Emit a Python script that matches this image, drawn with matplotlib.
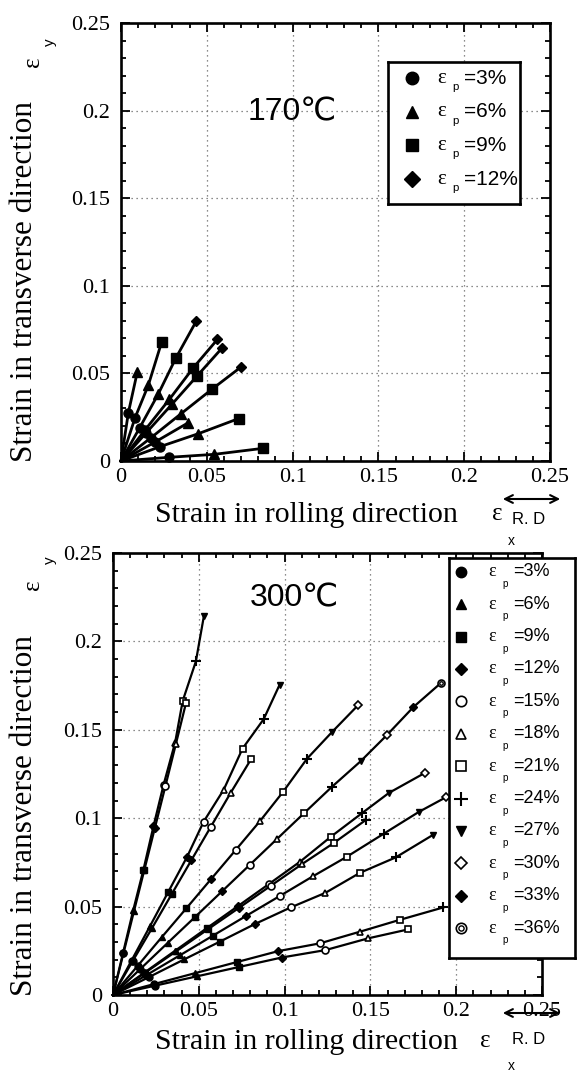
import matplotlib
matplotlib.use('Agg')
import matplotlib.pyplot as plt

W, H = 577, 1077

# plastic strain levels shown in the legends, one marker style per level
eps_levels = ['3', '6', '9', '12', '15', '18', '21', '24', '27', '30', '33', '36']
# (marker, filled) ; 'dc' = double circle
marker_styles = [('o', True), ('^', True), ('s', True), ('D', True),
                 ('o', False), ('^', False), ('s', False), ('+', None),
                 ('v', True), ('D', False), ('D', True), ('dc', False)]

# 170 C : strain paths, one point per 3% step of plastic strain
top_x = [
    [0.0043, 0.0095],
    [0.0082, 0.0159, 0.0237],
    [0.0109, 0.0218, 0.0321, 0.0438],
    [0.0140, 0.0282, 0.0422, 0.0562],
    [0.0148, 0.0296, 0.0443, 0.0591],
    [0.0175, 0.0350, 0.0529, 0.0700],
    [0.0198, 0.0393],
    [0.0228, 0.0451, 0.0685],
    [0.0280, 0.0543, 0.0825],
]
top_y = [
    [0.0276, 0.0508],
    [0.0247, 0.0432, 0.0679],
    [0.0190, 0.0384, 0.0590, 0.0797],
    [0.0177, 0.0352, 0.0533, 0.0694],
    [0.0162, 0.0323, 0.0485, 0.0647],
    [0.0133, 0.0270, 0.0409, 0.0537],
    [0.0108, 0.0219],
    [0.0082, 0.0156, 0.0242],
    [0.0021, 0.0038, 0.0072],
]

# 300 C
bot_x = [
    [0.0059, 0.0118, 0.0177, 0.0236, 0.0295, 0.0362, 0.0406, 0.0483, 0.0530],
    [0.0061, 0.0122, 0.0183, 0.0244, 0.0305, 0.0366, 0.0426],
    [0.0108, 0.0216, 0.0323, 0.0431, 0.0528, 0.0645, 0.0755, 0.0878, 0.0971],
    [0.0114, 0.0229, 0.0343, 0.0457, 0.0571, 0.0686, 0.0804],
    [0.0143, 0.0285, 0.0428, 0.0571, 0.0714, 0.0856, 0.0991, 0.1131, 0.1277, 0.1427],
    [0.0159, 0.0318, 0.0478, 0.0637, 0.0796, 0.0955, 0.1114, 0.1274, 0.1443, 0.1595, 0.1751, 0.1910],
    [0.0182, 0.0363, 0.0545, 0.0727, 0.0909, 0.1090, 0.1268, 0.1453, 0.1608, 0.1817],
    [0.0184, 0.0368, 0.0552, 0.0736, 0.0920, 0.1104, 0.1287, 0.1472],
    [0.0194, 0.0389, 0.0583, 0.0777, 0.0972, 0.1166, 0.1361, 0.1579, 0.1783, 0.1943],
    [0.0207, 0.0414, 0.0621, 0.0828, 0.1035, 0.1238, 0.1439, 0.1647, 0.1862],
    [0.0240, 0.0480, 0.0721, 0.0962, 0.1205, 0.1439, 0.1671, 0.1924],
    [0.0246, 0.0491, 0.0737, 0.0983, 0.1238, 0.1485, 0.1720],
]
bot_y = [
    [0.0240, 0.0480, 0.0707, 0.0955, 0.1190, 0.1428, 0.1663, 0.1887, 0.2145],
    [0.0236, 0.0473, 0.0709, 0.0945, 0.1180, 0.1418, 0.1654],
    [0.0195, 0.0390, 0.0585, 0.0780, 0.0980, 0.1161, 0.1394, 0.1560, 0.1755],
    [0.0191, 0.0381, 0.0572, 0.0763, 0.0953, 0.1144, 0.1333],
    [0.0164, 0.0328, 0.0491, 0.0655, 0.0819, 0.0983, 0.1149, 0.1337, 0.1488, 0.1638],
    [0.0147, 0.0294, 0.0441, 0.0588, 0.0735, 0.0882, 0.1029, 0.1176, 0.1322, 0.1469, 0.1629, 0.1764],
    [0.0126, 0.0251, 0.0377, 0.0502, 0.0628, 0.0754, 0.0894, 0.1030, 0.1143, 0.1256],
    [0.0124, 0.0247, 0.0371, 0.0494, 0.0618, 0.0742, 0.0860, 0.0989],
    [0.0112, 0.0224, 0.0336, 0.0448, 0.0560, 0.0672, 0.0781, 0.0913, 0.1036, 0.1120],
    [0.0100, 0.0201, 0.0301, 0.0402, 0.0495, 0.0578, 0.0691, 0.0778, 0.0904],
    [0.0062, 0.0124, 0.0186, 0.0248, 0.0292, 0.0358, 0.0425, 0.0495],
    [0.0053, 0.0106, 0.0159, 0.0212, 0.0254, 0.0320, 0.0371],
]

ticks = [0, 0.05, 0.1, 0.15, 0.2, 0.25]
tick_labels = ['0', '0.05', '0.1', '0.15', '0.2', '0.25']

SERIF = ['Liberation Serif', 'DejaVu Serif']
SANS = ['Liberation Sans', 'DejaVu Sans']


def box(l, t, r, b):
    # pixel box -> figure fraction
    return [l / W, 1 - b / H, (r - l) / W, (b - t) / H]


def fx(px):
    return px / W


def fy(py):
    return 1 - py / H


def draw_marker(ax, x, y, k, ms, **kw):
    m, filled = marker_styles[k]
    if m == 'dc':
        ax.plot(x, y, 'o', ms=ms, mfc='white', mec='black', mew=1.2, **kw)
        ax.plot(x, y, 'o', ms=ms * 0.5, mfc='white', mec='black', mew=1.0, **kw)
        return
    if m == 'D':
        ms = ms * 0.85
    if m == '+':
        ax.plot(x, y, '+', ms=ms * 1.3, mec='black', mew=1.5, **kw)
    elif filled:
        ax.plot(x, y, m, ms=ms, mfc='black', mec='black', **kw)
    else:
        ax.plot(x, y, m, ms=ms, mfc='white', mec='black', mew=1.2, **kw)


def setup(ax):
    ax.set_xlim(0, 0.25)
    ax.set_ylim(0, 0.25)
    ax.set_xticks(ticks)
    ax.set_yticks(ticks)
    ax.set_xticklabels(tick_labels, family=SERIF, fontsize=16)
    ax.set_yticklabels(tick_labels, family=SERIF, fontsize=16)
    ax.set_xticks([i * 0.01 for i in range(26)], minor=True)
    ax.set_yticks([i * 0.01 for i in range(26)], minor=True)
    ax.tick_params(which='both', direction='in', top=True, right=True, width=1.3)
    ax.tick_params(which='major', length=6.5)
    ax.tick_params(which='minor', length=3.5)
    ax.tick_params(axis='x', pad=5)
    ax.tick_params(axis='y', pad=8)
    ax.grid(True, which='major', linestyle=(0, (1, 3)), color='0.4', lw=0.9)
    for sp in ax.spines.values():
        sp.set_linewidth(1.9)


def draw_paths(ax, xs, ys, lw, ms):
    for px, py in zip(xs, ys):
        ax.plot([0] + px, [0] + py, color='black', lw=lw, zorder=3, clip_on=False)
        for k in range(len(px)):
            draw_marker(ax, px[k], py[k], k, ms, zorder=4, clip_on=False)


def draw_legend(rect, n, row0, dy, x_mark, x_eps, x_eq, ms, fs, fs_eps, p_drop):
    lg = fig.add_axes(box(*rect))
    w = rect[2] - rect[0]
    h = rect[3] - rect[1]
    lg.set_xlim(0, w)
    lg.set_ylim(h, 0)
    lg.set_xticks([])
    lg.set_yticks([])
    lg.set_facecolor('white')
    for sp in lg.spines.values():
        sp.set_linewidth(1.9)
    for i in range(n):
        yy = row0 + dy * i
        draw_marker(lg, x_mark, yy, i, ms)
        lg.text(x_eps, yy, 'ε', family=SERIF, fontsize=fs_eps, ha='center', va='center')
        lg.text(x_eps + (x_eq - x_eps) * 0.62, yy + p_drop, 'p', family=SANS,
                fontsize=fs * 0.55, ha='center', va='center')
        lg.text(x_eq, yy, '=' + eps_levels[i] + '%', family=SANS, fontsize=fs,
                ha='left', va='center')


fig = plt.figure(figsize=(W / 100, H / 100), dpi=100)

ax1 = fig.add_axes(box(121, 23, 550, 461))
setup(ax1)
draw_paths(ax1, top_x, top_y, 2.0, 6.5)
ax1.text(fx(292), fy(112), '170℃', transform=fig.transFigure, family=SANS,
         fontsize=23, ha='center', va='center')

ax2 = fig.add_axes(box(113, 553, 542, 995))
setup(ax2)
draw_paths(ax2, bot_x, bot_y, 1.6, 5)
ax2.text(fx(294), fy(598), '300℃', transform=fig.transFigure, family=SANS,
         fontsize=23, ha='center', va='center')

draw_legend((388, 62, 520, 204), 4, 16, 33.7, 24, 54, 76, 9, 15, 15, 9)
draw_legend((449, 558, 575, 958), 12, 13.7, 32.4, 11.7, 42.7, 64, 7.5, 13, 13, 12)

# axis titles and the rolling direction marks
for (ycen, ylab_eps, ylab_sub, xbase, arrow_y, rd_y, sub_y, eps_x) in [
        (282, 62, 42, 522, 499, 520, 541, 497),
        (815, 585, 560, 1049, 1013, 1040, 1066, 485)]:
    fig.text(fx(25), fy(ycen), 'Strain in transverse direction', rotation=90,
             family=SERIF, fontsize=22.5, ha='center', va='center')
    fig.text(fx(33), fy(ylab_eps), 'ε', rotation=90, family=SERIF,
             fontsize=18, ha='center', va='center')
    fig.text(fx(50), fy(ylab_sub), 'y', rotation=90, family=SANS,
             fontsize=11, ha='center', va='center')
    fig.text(fx(306), fy(xbase), 'Strain in rolling direction', family=SERIF,
             fontsize=21.5, ha='center', va='baseline')
    fig.text(fx(eps_x), fy(xbase - 2), 'ε', family=SERIF, fontsize=18,
             ha='center', va='baseline')
    fig.text(fx(529), fy(rd_y), 'R. D', family=SANS, fontsize=12,
             ha='center', va='center')
    fig.text(fx(511), fy(sub_y), 'x', family=SANS, fontsize=10,
             ha='center', va='center')
    fig.add_artist(matplotlib.patches.FancyArrowPatch(
        (fx(500), fy(arrow_y)), (fx(563), fy(arrow_y)), transform=fig.transFigure,
        arrowstyle='<->', mutation_scale=14, lw=1.5, color='black'))

fig.savefig('out.png', dpi=100)
